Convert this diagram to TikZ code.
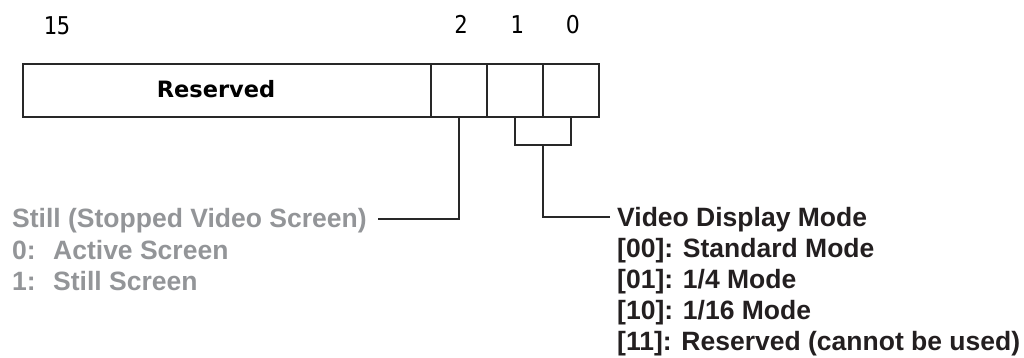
\documentclass[tikz,border=0pt]{standalone}
\usepackage{fontspec}
\setmainfont{Liberation Sans}
\newfontfamily\dvs{DejaVu Sans}
\newfontfamily\dvm{DejaVu Sans Mono}
\usetikzlibrary{calc}
\definecolor{greytxt}{RGB}{147,149,152}
\definecolor{darktxt}{RGB}{35,31,32}
\definecolor{linec}{RGB}{40,40,40}
\tikzset{
  cell/.style={draw=linec, line width=1.6pt, minimum height=53pt, inner sep=0pt, outer sep=0pt},
  conn/.style={draw=linec, line width=1.3pt},
  bitnum/.style={anchor=base, inner sep=0pt, font=\dvm\fontsize{24.5pt}{24.5pt}\selectfont, text=black, xscale=0.9},
  grey/.style={anchor=base west, inner sep=0pt, text=greytxt, font=\bfseries\fontsize{26.5pt}{31pt}\selectfont},
  dark/.style={anchor=base west, inner sep=0pt, text=darktxt, font=\bfseries\fontsize{26.5pt}{31pt}\selectfont},
  resv/.style={anchor=base, inner sep=0pt, font=\dvs\bfseries\fontsize{22.5pt}{22.5pt}\selectfont, text=black}
}
\begin{document}
\begin{tikzpicture}[x=1pt,y=-1pt]
\useasboundingbox (0,0) rectangle (1024,358);
% register cells
\node[cell, minimum width=408pt] (res) at (227,90.5) {};
\node[cell, minimum width=56pt] (b2) at (459,90.5) {};
\node[cell, minimum width=56pt] (b1) at (515,90.5) {};
\node[cell, minimum width=56pt] (b0) at (571,90.5) {};
\node[resv] (restxt) at (216,97.5) {Reserved};
% bit numbers
\node[bitnum] (n15) at (57,35) {15};
\node[bitnum] (n2) at (461,33.5) {2};
\node[bitnum] (n1) at (517,33.5) {1};
\node[bitnum, font=\dvs\fontsize{24.5pt}{24.5pt}\selectfont] (n0) at (573,33.5) {0};
% left description
\node[grey] (still) at (12,227.5) {Still (Stopped Video Screen)};
\node[grey] (still0) at (12,259) {\makebox[41pt][l]{0:}Active Screen};
\node[grey] (still1) at (12,290) {\makebox[41pt][l]{1:}Still Screen};
% right description
\node[dark] (vdm) at (617,226) {Video Display Mode};
\node[dark] (vdm00) at (617,257) {[00]: Standard Mode};
\node[dark] (vdm01) at (617,288) {[01]: 1/4 Mode};
\node[dark] (vdm10) at (617,319) {[10]: 1/16 Mode};
\node[dark] (vdm11) at (617,350) {[11]: Reserved (cannot be used)};
% connectors
\coordinate (stillend) at (378,219);
\coordinate (vdmend) at (610,217);
\draw[conn] (b2.south) |- (stillend);
\draw[conn] (b1.south) -- ++(0,28) coordinate (brkL) -| (b0.south);
\coordinate (brk) at ($(brkL)!0.5!(brkL -| b0.south)$);
\draw[conn] (brk) |- (vdmend);
\end{tikzpicture}
\end{document}
